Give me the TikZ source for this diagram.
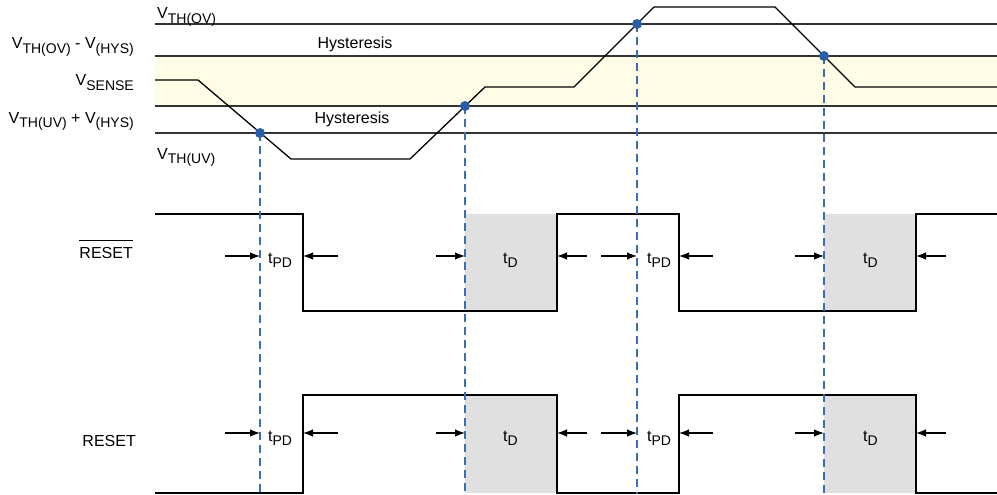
\documentclass[tikz,border=0pt]{standalone}
\usepackage{fontspec}
\setmainfont{Liberation Sans}
\usetikzlibrary{arrows.meta}

\definecolor{bandyellow}{HTML}{FFFDE6}
\definecolor{delaygray}{HTML}{E0E0E0}
\definecolor{guideblue}{HTML}{3B6CB4}
\definecolor{dotblue}{HTML}{2A5DA8}
\definecolor{levelgray}{HTML}{333333}

\newcommand{\lowsub}[1]{\raisebox{-4.5pt}{\fontsize{14}{14}\selectfont #1}}
\newcommand{\barred}[1]{\vbox{\hrule height 0.9pt\vskip 5.5pt\hbox{#1}}}

\begin{document}
\begin{tikzpicture}[
    x=1pt, y=-1pt,
    level/.style={draw=levelgray, line width=1.4pt},
    wave/.style={draw=black, line width=1.3pt},
    band/.style={fill=bandyellow},
    delay/.style={fill=delaygray},
    guide/.style={draw=guideblue, line width=1.2pt, dash pattern=on 8pt off 5pt},
    crossdot/.style={fill=dotblue},
    arrow/.style={-{Latex[length=10pt,width=7.5pt]}, line width=1.2pt},
    lab/.style={inner sep=0pt, font=\fontsize{16}{18}\selectfont}
]
    \useasboundingbox (0,0) rectangle (997,495);

    % threshold levels
    \fill [band] (155,56) rectangle (997,106);
    \draw [level] (155,24) -- (997,24);
    \draw [level] (155,56) -- (997,56);
    \draw [level] (155,106) -- (997,106);
    \draw [level] (155,133) -- (997,133);

    % delay windows
    \fill [delay] (465,214) rectangle (557,311);
    \fill [delay] (824,214) rectangle (916,311);
    \fill [delay] (465,395) rectangle (557,493);
    \fill [delay] (824,395) rectangle (916,493);

    % waveforms
    \draw [wave] (155,80) -- (198,80) -- (291,159) -- (410,159) -- (485,87) -- (574,87)
        -- (654,7) -- (775,7) -- (855,87) -- (997,87);
    \draw [wave] (155,214) -- (303,214) -- (303,311) -- (557,311) -- (557,214) -- (679,214)
        -- (679,311) -- (916,311) -- (916,214) -- (997,214);
    \draw [wave] (155,493) -- (303,493) -- (303,395) -- (557,395) -- (557,493) -- (679,493)
        -- (679,395) -- (916,395) -- (916,493) -- (997,493);

    % crossing points
    \coordinate (d1) at (260,133);
    \coordinate (d2) at (465,106);
    \coordinate (d3) at (637,24);
    \coordinate (d4) at (824,56);
    \coordinate (bottom) at (0,494);
    \foreach \cross in {d1,d2,d3,d4} {
        \draw [guide] (\cross) -- (\cross |- bottom);
        \fill [crossdot] (\cross) circle (5pt);
    }

    % level labels
    \node [lab, anchor=base west] (lblOV) at (157,19) {V\lowsub{TH(OV)}};
    \node [lab, anchor=base east] (lblOVhys) at (134,49) {V\lowsub{TH(OV)} - V\lowsub{(HYS)}};
    \node [lab, anchor=base east] (lblSense) at (134,86) {V\lowsub{SENSE}};
    \node [lab, anchor=base east] (lblUVhys) at (134,123.5) {V\lowsub{TH(UV)} + V\lowsub{(HYS)}};
    \node [lab, anchor=base west] (lblUV) at (157,159.5) {V\lowsub{TH(UV)}};
    \node [lab, anchor=base] (hysUp) at (355,48.5) {Hysteresis};
    \node [lab, anchor=base] (hysLow) at (352,124) {Hysteresis};

    % signal labels
    \node [lab, anchor=base east] (lblResetB) at (133,258) {\barred{RESET}};
    \node [lab, anchor=base east] (lblReset) at (136,446.5) {RESET};

    % timing arrows
    \foreach \r/\y in {b/256, r/433} {
        \foreach \k/\from/\to in {1/225/260, 2/338/303, 3/436/465, 4/587/557,
                                  5/601/637, 6/713/679, 7/795/824, 8/946/916} {
            \coordinate (s\r\k) at (\from,\y);
            \coordinate (e\r\k) at (\to,\y);
            \draw [arrow] (s\r\k) -- (e\r\k);
        }
    }
    \foreach \r/\y in {b/263, r/441} {
        \node [lab, anchor=base west] (tpd1\r) at (268,\y) {t\lowsub{PD}};
        \node [lab, anchor=base west] (td1\r) at (503,\y) {t\lowsub{D}};
        \node [lab, anchor=base west] (tpd2\r) at (647,\y) {t\lowsub{PD}};
        \node [lab, anchor=base west] (td2\r) at (863,\y) {t\lowsub{D}};
    }
\end{tikzpicture}
\end{document}
